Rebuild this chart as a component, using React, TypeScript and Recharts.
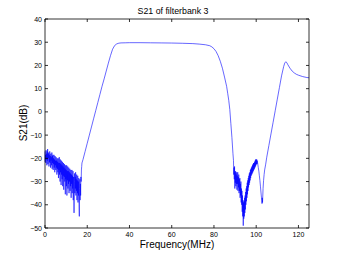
import { Line, LineChart, XAxis, YAxis } from "recharts";

// [MHz, dB], segment by segment
const stopLow: [number, number][] = [
  [0, -17], [0.125, -21.5], [0.25, -18.5], [0.375, -22], [0.5, -16.5], [0.625, -20.5], [0.75, -18], [0.875, -23],
  [1, -17], [1.125, -21], [1.25, -16], [1.375, -22.5], [1.5, -18], [1.625, -20], [1.75, -17.5], [1.875, -23.5],
  [2, -18.5], [2.125, -21.5], [2.25, -17], [2.375, -22], [2.5, -19], [2.625, -24], [2.75, -18], [2.875, -21],
  [3, -19.5], [3.125, -23], [3.25, -17.5], [3.375, -24.5], [3.5, -19], [3.625, -22], [3.75, -18.5], [3.875, -25],
  [4, -20], [4.125, -22.5], [4.25, -18.5], [4.375, -24], [4.5, -20.5], [4.625, -26], [4.75, -19], [4.875, -23],
  [5, -21], [5.125, -25], [5.25, -19.5], [5.375, -24], [5.5, -21], [5.625, -27], [5.75, -20], [5.875, -24.5],
  [6, -21.5], [6.125, -26], [6.25, -20], [6.375, -28.5], [6.5, -22], [6.625, -25], [6.75, -19.5], [6.875, -27],
  [7, -22], [7.125, -30], [7.25, -20.5], [7.375, -26], [7.5, -22.5], [7.625, -31.5], [7.75, -21], [7.875, -27],
  [8, -23], [8.125, -29], [8.25, -21.5], [8.375, -32], [8.5, -23.5], [8.625, -27.5], [8.75, -22], [8.875, -33.5],
  [9, -24], [9.125, -28], [9.25, -22.5], [9.375, -30], [9.5, -24.5], [9.625, -35.5], [9.75, -23], [9.875, -29],
  [10, -25], [10.125, -32], [10.25, -23], [10.375, -36], [10.5, -25.5], [10.625, -29.5], [10.75, -23.5], [10.875, -33],
  [11, -25.5], [11.125, -31], [11.25, -24], [11.375, -35], [11.5, -26], [11.625, -30], [11.75, -24.5], [11.875, -34],
  [12, -26.5], [12.125, -32], [12.25, -25], [12.375, -37], [12.5, -27], [12.625, -31], [12.75, -25], [12.875, -35],
  [13, -27.5], [13.125, -33], [13.25, -25.5], [13.375, -38], [13.5, -28], [13.625, -32], [13.75, -43.5], [13.875, -30],
  [14, -26.5], [14.125, -35], [14.25, -28], [14.375, -33], [14.5, -26], [14.625, -36], [14.75, -29], [14.875, -34],
  [15, -27], [15.125, -38], [15.25, -29.5], [15.375, -35], [15.5, -27.5], [15.625, -39], [15.75, -30], [15.875, -36],
  [16, -28.5], [16.125, -40], [16.25, -45], [16.375, -33], [16.5, -29], [16.625, -38], [16.75, -31], [16.875, -36],
  [17, -28], [17.125, -30], [17.25, -25], [17.375, -23.5], [17.5, -22],
];

const risingEdge: [number, number][] = [
  [18, -20.5], [19, -17], [20, -13.5], [21, -10], [22, -6.5], [23, -3], [24, 0.5], [25, 4],
  [26, 7.5], [27, 11], [28, 14.2], [29, 17.6], [30, 21], [31, 24.2], [32, 27], [33, 28.6],
  [34, 29.3], [35, 29.6], [36, 29.7],
];

const passband: [number, number][] = [
  [38, 29.75], [40, 29.8], [45, 29.8], [50, 29.75], [55, 29.7], [60, 29.65], [65, 29.55], [70, 29.4],
  [73, 29.2], [76, 28.9], [78, 28.5], [79, 28], [80, 27.2], [81, 26], [82, 24.2], [83, 21.8],
  [84, 18.8], [85, 15], [86, 11], [86.5, 8], [87, 5], [87.5, 1], [88, -5], [88.5, -11], [89, -18],
];

const notch: [number, number][] = [
  [89.25, -21], [89.375, -27], [89.5, -24], [89.625, -29], [89.75, -23.5], [89.875, -33], [90, -26], [90.125, -30.5],
  [90.25, -25.5], [90.375, -32], [90.5, -27], [90.625, -31], [90.75, -26], [90.875, -33.5], [91, -27.5], [91.125, -31],
  [91.25, -26], [91.375, -34], [91.5, -28], [91.625, -32.5], [91.75, -27], [91.875, -35], [92, -29], [92.125, -34],
  [92.25, -28.5], [92.375, -37], [92.5, -31], [92.625, -36], [92.75, -30], [92.875, -39], [93, -33], [93.125, -40],
  [93.25, -34], [93.375, -43], [93.5, -36], [93.625, -45], [93.75, -38], [93.875, -49], [94, -39], [94.125, -46],
  [94.25, -38.5], [94.375, -45], [94.5, -37], [94.625, -43.5], [94.75, -36], [94.875, -42], [95, -34.5], [95.125, -40],
  [95.25, -33], [95.375, -38.5], [95.5, -32], [95.625, -37], [95.75, -30.5], [95.875, -35.5], [96, -29.5], [96.125, -34],
  [96.25, -28.5], [96.375, -32.5], [96.5, -27.5], [96.625, -31.5], [96.75, -26.5], [96.875, -30.5], [97, -26], [97.125, -29.5],
  [97.25, -25], [97.375, -28.5], [97.5, -24.5], [97.625, -27.5], [97.75, -24], [97.875, -27], [98, -23.5], [98.125, -26.5],
  [98.25, -23], [98.375, -26], [98.5, -22.5], [98.625, -25.5], [98.75, -22], [98.875, -25], [99, -22], [99.125, -24.5],
  [99.25, -21.5], [99.375, -24], [99.5, -21], [99.625, -23.5], [99.75, -20.5], [99.875, -23], [100, -20.5], [100.125, -22.5],
  [100.25, -20.5], [100.375, -22.5], [100.5, -21], [100.75, -22.5], [101, -24], [101.25, -25.5], [101.5, -27.5], [101.75, -29.5],
  [102, -32], [102.25, -34.5], [102.5, -37], [102.625, -38], [102.75, -39.5], [102.875, -37], [103, -39], [103.25, -33],
  [103.5, -29.5], [103.75, -27], [104, -25],
];

const upperSkirt: [number, number][] = [
  [104.5, -22.5], [105, -19.5], [106, -14.5], [107, -9.5], [108, -4.5], [109, 0.5], [110, 5.5], [111, 10.5],
  [112, 15.5], [113, 19.5], [113.5, 21], [114, 21.6], [114.5, 21.2], [115, 20.3], [116, 18.8], [117, 17.6],
  [118, 16.8], [119, 16.2], [120, 15.8], [122, 15.2], [124, 14.8], [125, 14.7],
];

const xTicks = [0, 20, 40, 60, 80, 100, 120];
const yTicks = [-50, -40, -30, -20, -10, 0, 10, 20, 30, 40];

const rows = [...stopLow, ...risingEdge, ...passband, ...notch, ...upperSkirt].map(([f, db]) => ({ f, db }));

const font = "'Liberation Sans', Arial, sans-serif";
const ink = "#000";

const fmt = (v: number) => (v < 0 ? "\u2212" + Math.abs(v) : String(v));

function BottomTick({ x, y, payload }: any) {
  return (
    <g>
      <line x1={x} x2={x} y1={y} y2={y - 3} stroke={ink} strokeWidth={0.8} />
      <text x={x} y={y + 9} textAnchor="middle" fontSize={7} fontFamily={font} fill={ink}>
        {fmt(payload.value)}
      </text>
    </g>
  );
}

function TopTick({ x, y }: any) {
  return <line x1={x} x2={x} y1={y} y2={y + 3} stroke={ink} strokeWidth={0.8} />;
}

function LeftTick({ x, y, payload }: any) {
  return (
    <g>
      <line x1={x} x2={x + 3} y1={y} y2={y} stroke={ink} strokeWidth={0.8} />
      <text x={x - 3} y={y + 2.5} textAnchor="end" fontSize={7} fontFamily={font} fill={ink}>
        {fmt(payload.value)}
      </text>
    </g>
  );
}

function RightTick({ x, y }: any) {
  return <line x1={x} x2={x - 3} y1={y} y2={y} stroke={ink} strokeWidth={0.8} />;
}

const axisCommon = {
  tickSize: 0,
  tickMargin: 0,
  tickLine: false,
  stroke: ink,
  axisLine: { stroke: ink, strokeWidth: 0.8 },
};

export default function App() {
  return (
    <div style={{ position: "absolute", left: 0, top: 0, width: 341, height: 257, background: "#fff" }}>
      <LineChart width={341} height={257} data={rows} margin={{ top: 18, right: 31, bottom: 28, left: 44 }}>
        <XAxis
          xAxisId="b"
          dataKey="f"
          type="number"
          domain={[0, 125]}
          ticks={xTicks}
          height={1}
          tick={<BottomTick />}
          {...axisCommon}
        />
        <XAxis
          xAxisId="t"
          orientation="top"
          dataKey="f"
          type="number"
          domain={[0, 125]}
          ticks={xTicks}
          height={1}
          tick={<TopTick />}
          {...axisCommon}
        />
        <YAxis
          yAxisId="l"
          type="number"
          domain={[-50, 40]}
          ticks={yTicks}
          width={1}
          tick={<LeftTick />}
          allowDataOverflow
          {...axisCommon}
        />
        <YAxis
          yAxisId="r"
          orientation="right"
          type="number"
          domain={[-50, 40]}
          ticks={yTicks}
          width={1}
          tick={<RightTick />}
          allowDataOverflow
          {...axisCommon}
        />
        <Line
          xAxisId="b"
          yAxisId="l"
          dataKey="db"
          type="linear"
          stroke="#0000ff"
          strokeWidth={0.6}
          dot={false}
          isAnimationActive={false}
        />
        <text x={173} y={14} textAnchor="middle" fontSize={8.8} fontFamily={font} fill={ink}>
          S21 of filterbank 3
        </text>
        <text x={177} y={248} textAnchor="middle" fontSize={10} fontFamily={font} fill={ink}>
          Frequency(MHz)
        </text>
        <text
          x={27}
          y={123}
          textAnchor="middle"
          fontSize={10}
          fontFamily={font}
          fill={ink}
          transform="rotate(-90 27 123)"
        >
          S21(dB)
        </text>
      </LineChart>
    </div>
  );
}
